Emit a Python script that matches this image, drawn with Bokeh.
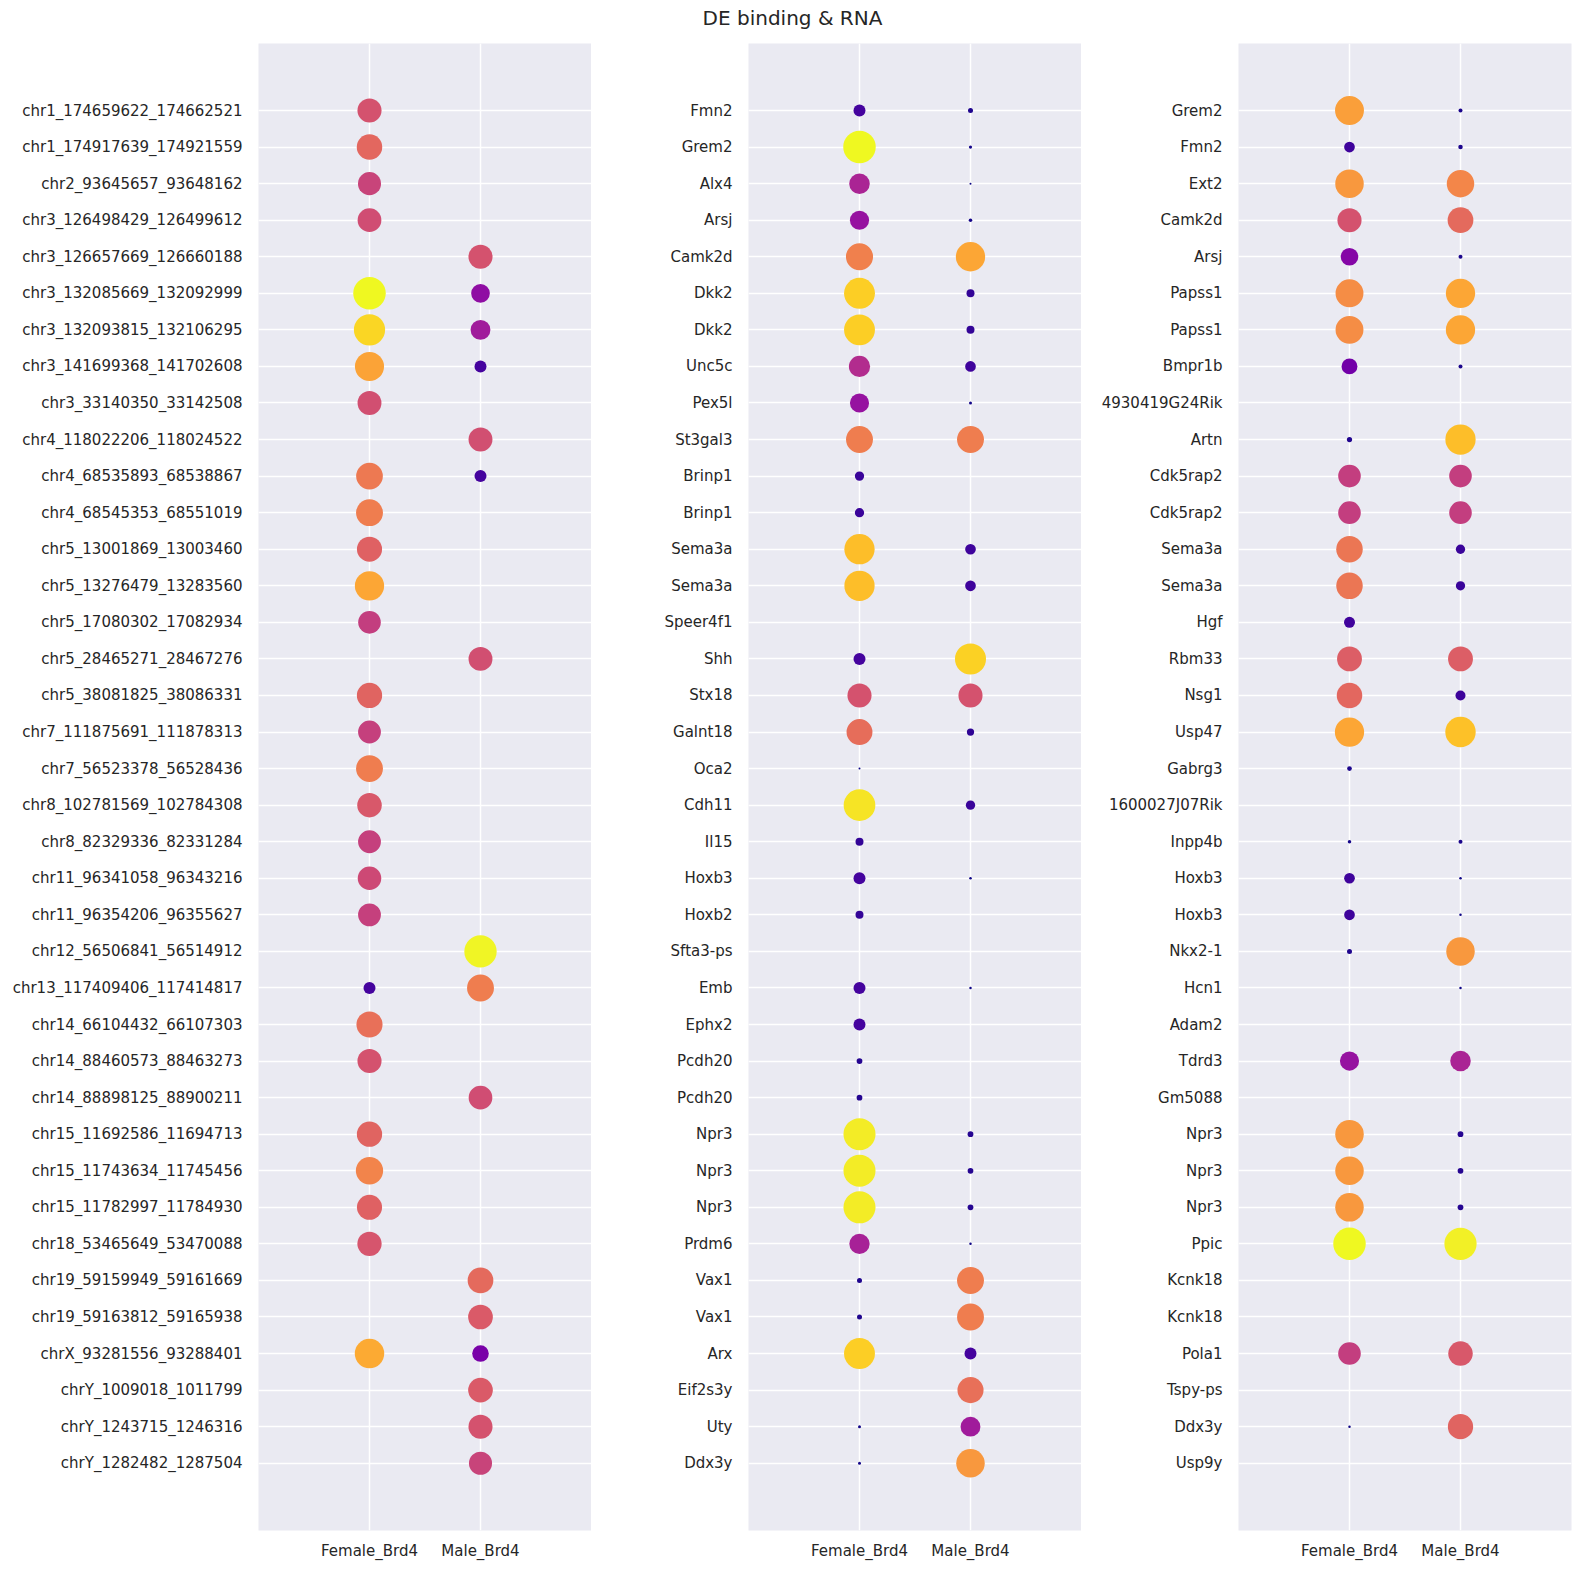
import numpy as np
from bokeh.plotting import figure
from bokeh.models import ColumnDataSource, Range1d, FixedTicker, LinearColorMapper
from bokeh.transform import transform
from bokeh.layouts import column, row
from bokeh.palettes import Plasma256
from bokeh.embed import file_html
from bokeh.resources import INLINE
from bokeh.core.properties import value

TITLE = "DE binding & RNA"
conditions = ["Female_Brd4", "Male_Brd4"]

# ---------------- panel 1 ----------------
labels_1 = [
    "chr1_174659622_174662521", "chr1_174917639_174921559", "chr2_93645657_93648162",
    "chr3_126498429_126499612", "chr3_126657669_126660188", "chr3_132085669_132092999",
    "chr3_132093815_132106295", "chr3_141699368_141702608", "chr3_33140350_33142508",
    "chr4_118022206_118024522", "chr4_68535893_68538867", "chr4_68545353_68551019",
    "chr5_13001869_13003460", "chr5_13276479_13283560", "chr5_17080302_17082934",
    "chr5_28465271_28467276", "chr5_38081825_38086331", "chr7_111875691_111878313",
    "chr7_56523378_56528436", "chr8_102781569_102784308", "chr8_82329336_82331284",
    "chr11_96341058_96343216", "chr11_96354206_96355627", "chr12_56506841_56514912",
    "chr13_117409406_117414817", "chr14_66104432_66107303", "chr14_88460573_88463273",
    "chr14_88898125_88900211", "chr15_11692586_11694713", "chr15_11743634_11745456",
    "chr15_11782997_11784930", "chr18_53465649_53470088", "chr19_59159949_59161669",
    "chr19_59163812_59165938", "chrX_93281556_93288401", "chrY_1009018_1011799",
    "chrY_1243715_1246316", "chrY_1282482_1287504",
]
female_1 = [0.54, 0.61, 0.49, 0.52, None, 1.00, 0.92, 0.79, 0.53, None, 0.67, 0.68,
            0.59, 0.80, 0.47, None, 0.60, 0.48, 0.68, 0.56, 0.48, 0.51, 0.48, None,
            0.11, 0.64, 0.54, None, 0.60, 0.70, 0.59, 0.55, None, None, 0.81, None,
            None, None]
male_1 = [None, None, None, None, 0.54, 0.30, 0.35, 0.11, None, 0.53, 0.11, None,
          None, None, None, 0.53, None, None, None, None, None, None, None, 0.99,
          0.68, None, None, 0.52, None, None, None, None, 0.62, 0.57, 0.24, 0.57,
          0.54, 0.49]

# ---------------- panel 2 ----------------
labels_2 = [
    "Fmn2", "Grem2", "Alx4", "Arsj", "Camk2d", "Dkk2", "Dkk2", "Unc5c", "Pex5l",
    "St3gal3", "Brinp1", "Brinp1", "Sema3a", "Sema3a", "Speer4f1", "Shh", "Stx18",
    "Galnt18", "Oca2", "Cdh11", "Il15", "Hoxb3", "Hoxb2", "Sfta3-ps", "Emb", "Ephx2",
    "Pcdh20", "Pcdh20", "Npr3", "Npr3", "Npr3", "Prdm6", "Vax1", "Vax1", "Arx",
    "Eif2s3y", "Uty", "Ddx3y",
]
female_2 = [0.11, 1.00, 0.38, 0.32, 0.69, 0.90, 0.90, 0.41, 0.32, 0.68, 0.083, 0.083,
            0.86, 0.86, None, 0.11, 0.54, 0.63, 0.0, 0.95, 0.07, 0.11, 0.07, None,
            0.11, 0.11, 0.04, 0.04, 0.97, 0.97, 0.97, 0.37, 0.03, 0.03, 0.90, None,
            0.01, 0.01]
male_2 = [0.03, 0.012, 0.0, 0.015, 0.80, 0.07, 0.07, 0.097, 0.01, 0.68, None, None,
          0.097, 0.097, None, 0.91, 0.54, 0.06, None, 0.083, None, 0.005, None, None,
          0.005, None, None, None, 0.04, 0.04, 0.04, 0.005, 0.68, 0.68, 0.11, 0.64,
          0.35, 0.76]

# ---------------- panel 3 ----------------
labels_3 = [
    "Grem2", "Fmn2", "Ext2", "Camk2d", "Arsj", "Papss1", "Papss1", "Bmpr1b",
    "4930419G24Rik", "Artn", "Cdk5rap2", "Cdk5rap2", "Sema3a", "Sema3a", "Hgf",
    "Rbm33", "Nsg1", "Usp47", "Gabrg3", "1600027J07Rik", "Inpp4b", "Hoxb3", "Hoxb3",
    "Nkx2-1", "Hcn1", "Adam2", "Tdrd3", "Gm5088", "Npr3", "Npr3", "Npr3", "Ppic",
    "Kcnk18", "Kcnk18", "Pola1", "Tspy-ps", "Ddx3y", "Usp9y",
]
female_3 = [0.78, 0.097, 0.76, 0.54, 0.27, 0.73, 0.73, 0.22, None, 0.033, 0.47, 0.47,
            0.66, 0.66, 0.10, 0.58, 0.61, 0.80, 0.027, None, 0.015, 0.097, 0.097, 0.03,
            None, None, 0.32, None, 0.76, 0.76, 0.76, 1.00, None, None, 0.47, None,
            0.005, None]
male_3 = [0.02, 0.025, 0.71, 0.62, 0.02, 0.80, 0.80, 0.02, None, 0.86, 0.47, 0.47,
          0.083, 0.083, None, 0.58, 0.09, 0.87, None, None, 0.02, 0.005, 0.005, 0.76,
          0.005, None, 0.38, None, 0.04, 0.04, 0.04, 0.98, None, None, 0.56, None,
          0.60, None]

# size scale (score -> marker diameter in px)
SIZE_V = [0.0, 0.03, 0.07, 0.11, 0.30, 0.50, 0.80, 1.00]
SIZE_D = [2.0, 5.0, 8.0, 12.0, 18.7, 23.3, 29.3, 32.5]

BG = "#EAEAF2"
TXT = "#262626"
FONT = "DejaVu Sans"
PANEL_H = 1519
TITLE_H = 43
mapper = LinearColorMapper(palette=Plasma256, low=0, high=1)


def make_panel(labels, fem, mal, width, left, right):
    n = len(labels)
    p = figure(width=width, height=PANEL_H,
               x_range=Range1d(-1, 2), y_range=Range1d(n - 1 + 1.84, -1.833),
               output_backend="svg", toolbar_location=None,
               min_border_left=left, min_border_right=right,
               min_border_top=0, min_border_bottom=32)
    p.background_fill_color = BG
    p.border_fill_color = "white"
    p.outline_line_color = None

    xs, ys, vs = [], [], []
    for i, (f, m) in enumerate(zip(fem, mal)):
        if f is not None:
            xs.append(0); ys.append(i); vs.append(f)
        if m is not None:
            xs.append(1); ys.append(i); vs.append(m)
    src = ColumnDataSource(dict(x=xs, y=ys, v=vs,
                                size=np.interp(vs, SIZE_V, SIZE_D)))
    p.scatter("x", "y", size="size", source=src,
              fill_color=transform("v", mapper), line_color=None)

    p.xaxis.ticker = FixedTicker(ticks=[0, 1])
    p.xaxis.major_label_overrides = {i: c for i, c in enumerate(conditions)}
    p.yaxis.ticker = FixedTicker(ticks=list(range(n)))
    p.yaxis.major_label_overrides = {i: lab for i, lab in enumerate(labels)}

    for ax in (p.xaxis, p.yaxis):
        ax.axis_line_color = None
        ax.major_tick_line_color = None
        ax.minor_tick_line_color = None
        ax.major_tick_out = 0
        ax.major_tick_in = 0
        ax.major_label_text_font = FONT
        ax.major_label_text_font_size = "15px"
        ax.major_label_text_color = TXT
    p.yaxis.major_label_standoff = 16
    p.xaxis.major_label_standoff = 11

    p.xgrid.ticker = FixedTicker(ticks=[0, 1])
    p.ygrid.ticker = FixedTicker(ticks=list(range(n)))
    p.grid.grid_line_color = "white"
    p.grid.grid_line_width = 1.5
    return p


p1 = make_panel(labels_1, female_1, male_1, 591, 258, 0)
p2 = make_panel(labels_2, female_2, male_2, 490, 157, 0)
p3 = make_panel(labels_3, female_3, male_3, 495, 157, 5)

t = figure(width=1576, height=TITLE_H, x_range=Range1d(0, 1576), y_range=Range1d(TITLE_H, 0),
           output_backend="svg", toolbar_location=None,
           x_axis_location=None, y_axis_location=None, min_border=0)
t.grid.visible = False
t.outline_line_color = None
t.background_fill_color = "white"
t.text(x=[792], y=[17], text=[TITLE], text_align="center",
       text_baseline="alphabetic", text_font=value(FONT),
       text_font_size="20px", text_color=TXT)

layout = column(t, row(p1, p2, p3))
open("out.html", "w").write(file_html(layout, INLINE, title=TITLE))
